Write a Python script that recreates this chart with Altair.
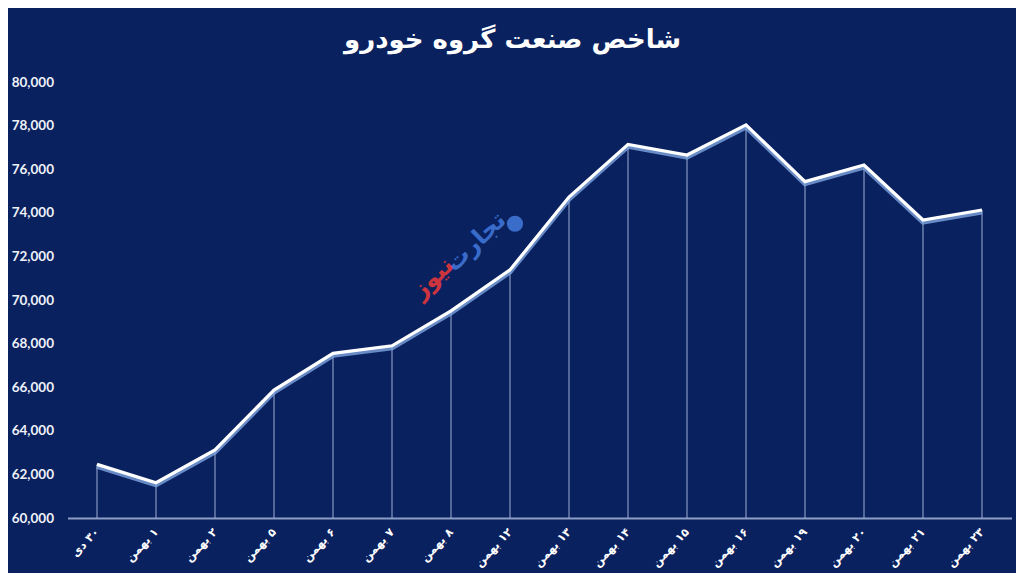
import altair as alt
import pandas as pd

RLM = "\u200f"
categories = ["۳۰ دی", "۱ بهمن", "۲ بهمن", "۵ بهمن", "۶ بهمن", "۷ بهمن", "۸ بهمن",
              "۱۲ بهمن", "۱۳ بهمن", "۱۴ بهمن", "۱۵ بهمن", "۱۶ بهمن", "۱۹ بهمن",
              "۲۰ بهمن", "۲۱ بهمن", "۲۳ بهمن"]
values = [62460, 61620, 63120, 65870, 67555, 67900, 69500, 71380, 74720,
          77140, 76650, 78030, 75430, 76190, 73670, 74130]
y_ticks = [60000, 62000, 64000, 66000, 68000, 70000, 72000, 74000, 76000, 78000, 80000]
title_text = "شاخص صنعت گروه خودرو"

labels = [RLM + c + RLM for c in categories]
df = pd.DataFrame({"day": labels, "value": values, "base": [60000] * len(values)})

BG = "#0a2160"

x_enc = alt.X("day:N", sort=labels,
              scale=alt.Scale(type="point", padding=0.5),
              axis=alt.Axis(title=None, labelAngle=-47, labelAlign="right",
                            labelBaseline="middle", labelColor="white",
                            labelFont="DejaVu Sans", labelFontWeight="bold",
                            labelFontSize=11.5, labelPadding=12, ticks=False,
                            domain=True, domainColor="#8d9ec4", domainWidth=2,
                            grid=False))
y_enc = alt.Y("value:Q",
              scale=alt.Scale(domain=[60000, 80000], nice=False, zero=False),
              axis=alt.Axis(title=None, values=y_ticks, format=",d",
                            labelColor="#eef1f8", labelFont="Lato",
                            labelFontWeight="bold", labelFontSize=13.5,
                            labelPadding=14, ticks=False, domain=False, grid=False))

base = alt.Chart(df)

rules = base.mark_rule(color="#b9c8e6", strokeWidth=1, opacity=0.85).encode(
    x=x_enc, y=y_enc, y2="base:Q")

glow = base.mark_line(color="#7fa6e0", strokeWidth=5, yOffset=2, opacity=0.8,
                      strokeJoin="miter").encode(x=x_enc, y=y_enc)
line = base.mark_line(color="white", strokeWidth=3.2, strokeJoin="miter").encode(
    x=x_enc, y=y_enc)

wm1 = alt.Chart(pd.DataFrame({"t": ["تجارت"]})).mark_text(
    font="DejaVu Sans", fontWeight="bold", fontSize=24, color="#3f74d6",
    angle=316, opacity=0.9).encode(
    x=alt.datum(labels[6]), y=alt.datum(72650), text="t:N",
    xOffset=alt.value(25))
wm2 = alt.Chart(pd.DataFrame({"t": ["نیوز"]})).mark_text(
    font="DejaVu Sans", fontWeight="bold", fontSize=24, color="#e2383a",
    angle=316, opacity=0.9).encode(
    x=alt.datum(labels[5]), y=alt.datum(71000), text="t:N",
    xOffset=alt.value(41))
wm_icon = alt.Chart(pd.DataFrame({"t": [1]})).mark_point(
    shape="circle", filled=True, size=260, color="#3f74d6", opacity=0.9).encode(
    x=alt.datum(labels[7]), y=alt.datum(73500), xOffset=alt.value(5))

chart = alt.layer(rules, glow, line, wm1, wm2, wm_icon).properties(
    width=944, height=436,
    padding={"left": 59.5, "top": 74, "right": 4, "bottom": 55},
    autosize=alt.AutoSizeParams(type="none"),
    background=BG,
    title=alt.Title(title_text, font="DejaVu Sans", fontSize=26, fontWeight="bold",
                    color="white", anchor="middle", dx=-27, offset=22),
).configure_view(stroke=None)

chart.save("out.html", embed_options={"renderer": "svg", "actions": False})
